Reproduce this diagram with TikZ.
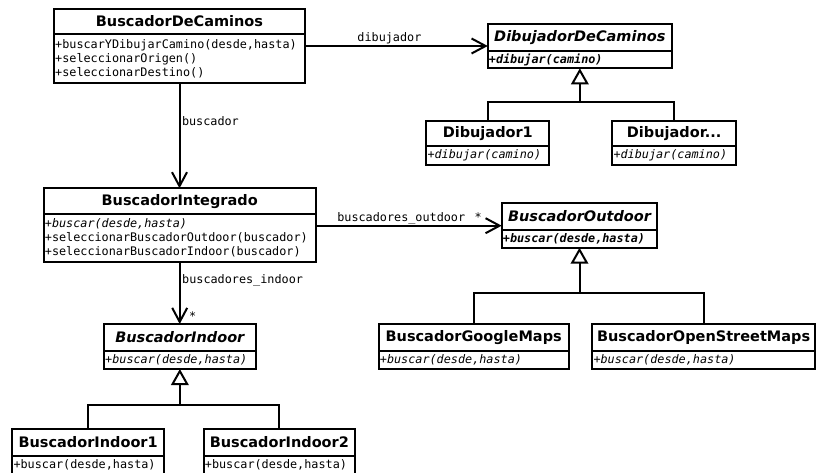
\documentclass[tikz,border=0pt]{standalone}
\usepackage{fontspec}
\setmainfont{DejaVu Sans}
\newfontfamily\umlmono{DejaVu Sans Mono}
\usetikzlibrary{arrows.meta}

\tikzset{
  uml/.style={draw=black, line width=2pt, inner sep=0pt, outer sep=0pt, fill=white},
  ctitle/.style={uml, font=\fontsize{14.5}{17}\selectfont\bfseries},
  atitle/.style={uml, font=\fontsize{14.5}{17}\selectfont\bfseries\itshape},
  cbody/.style={uml, anchor=north, inner xsep=1.2pt, align=left,
    font=\umlmono\fontsize{11.8}{14}\selectfont},
  conn/.style={line width=2pt, line join=miter},
  assoc/.style={conn, -{Straight Barb[length=14pt,width=15pt]}},
  inherit/.style={conn, -{Triangle[open,length=16pt,width=17.5pt]}},
  lbl/.style={font=\umlmono\fontsize{11.8}{14}\selectfont, inner sep=0pt},
}

\begin{document}
\begin{tikzpicture}[x=1pt, y=-1pt]
\fill[white] (0,0) rectangle (817,473);
\useasboundingbox (0,0) rectangle (817,473);

% BuscadorDeCaminos
\node[ctitle, minimum width=251pt, minimum height=25pt] (bdc) at (179.5,21.5) {BuscadorDeCaminos};
\node[cbody, minimum width=251pt, minimum height=49pt, text width=248.6pt] (bdc-b) at (bdc.south)
  {+buscarYDibujarCamino(desde,hasta)\\+seleccionarOrigen()\\+seleccionarDestino()};

% DibujadorDeCaminos (abstract)
\node[atitle, minimum width=184.3pt, minimum height=26.7pt] (ddc) at (579.85,37.35) {DibujadorDeCaminos};
\node[cbody, minimum width=184.3pt, minimum height=17.6pt, text width=181.9pt] (ddc-b) at (ddc.south)
  {\bfseries\itshape +dibujar(camino)};

% Dibujador1 and Dibujador...
\node[ctitle, minimum width=123pt, minimum height=25.3pt] (d1) at (487.8,133.35) {Dibujador1};
\node[cbody, minimum width=123pt, minimum height=19pt, text width=120.6pt] (d1-b) at (d1.south)
  {\itshape +dibujar(camino)};
\node[ctitle, minimum width=123.7pt, minimum height=25.3pt] (dx) at (674.15,133.35) {Dibujador...};
\node[cbody, minimum width=123.7pt, minimum height=19pt, text width=121.3pt] (dx-b) at (dx.south)
  {\itshape +dibujar(camino)};

% BuscadorIntegrado
\node[ctitle, minimum width=272pt, minimum height=25.7pt] (bi) at (179.7,201.15) {BuscadorIntegrado};
\node[cbody, minimum width=272pt, minimum height=47.7pt, text width=269.6pt] (bi-b) at (bi.south)
  {{\itshape +buscar(desde,hasta)}\\+seleccionarBuscadorOutdoor(buscador)\\+seleccionarBuscadorIndoor(buscador)};

% BuscadorOutdoor (abstract)
\node[atitle, minimum width=155.6pt, minimum height=27.3pt] (bo) at (579.5,216.35) {BuscadorOutdoor};
\node[cbody, minimum width=155.6pt, minimum height=17.7pt, text width=153.2pt] (bo-b) at (bo.south)
  {\bfseries\itshape +buscar(desde,hasta)};

% BuscadorGoogleMaps and BuscadorOpenStreetMaps
\node[ctitle, minimum width=190pt, minimum height=27pt] (bg) at (473.7,337.5) {BuscadorGoogleMaps};
\node[cbody, minimum width=190pt, minimum height=18pt, text width=187.6pt] (bg-b) at (bg.south)
  {\itshape +buscar(desde,hasta)};
\node[ctitle, minimum width=222.7pt, minimum height=27pt] (bos) at (703.65,337.5) {BuscadorOpenStreetMaps};
\node[cbody, minimum width=222.7pt, minimum height=18pt, text width=220.3pt] (bos-b) at (bos.south)
  {\itshape +buscar(desde,hasta)};

% BuscadorIndoor (abstract)
\node[atitle, minimum width=151.7pt, minimum height=27pt] (bin) at (179.85,337.5) {BuscadorIndoor};
\node[cbody, minimum width=151.7pt, minimum height=18pt, text width=149.3pt] (bin-b) at (bin.south)
  {\itshape +buscar(desde,hasta)};

% BuscadorIndoor1 and BuscadorIndoor2
\node[ctitle, minimum width=151.7pt, minimum height=27pt] (b1) at (88.15,442.5) {BuscadorIndoor1};
\node[cbody, minimum width=151.7pt, minimum height=18pt, text width=149.3pt] (b1-b) at (b1.south)
  {+buscar(desde,hasta)};
\node[ctitle, minimum width=151.3pt, minimum height=27pt] (b2) at (279.35,442.5) {BuscadorIndoor2};
\node[cbody, minimum width=151.3pt, minimum height=18pt, text width=148.9pt] (b2-b) at (b2.south)
  {+buscar(desde,hasta)};

% associations
\coordinate (a1) at ([yshift=-12pt]bdc-b.north east);
\draw[assoc] (a1) -- (a1 -| ddc.west)
  node[lbl, pos=.462, anchor=base, yshift=4pt] {dibujador};

\draw[assoc] (bdc-b.south) -- (bdc-b.south |- bi.north)
  node[lbl, pos=.408, anchor=base west, xshift=1.5pt] {buscador};

\coordinate (a2) at ([yshift=-11.7pt]bi-b.north east);
\draw[assoc] (a2) -- (a2 -| bo.west)
  node[lbl, pos=.46, anchor=base, yshift=4.5pt] {buscadores\_outdoor}
  node[lbl, pos=.874, anchor=base, yshift=4.5pt] {*};

\draw[assoc] (bi-b.south) -- (bi-b.south |- bin.north)
  node[lbl, pos=.342, anchor=base west, xshift=1.5pt] {buscadores\_indoor}
  node[lbl, pos=.94, anchor=base, xshift=13pt] {*};

% generalizations
\coordinate (ddc-j) at (ddc-b.south |- 0,102);
\draw[inherit] (ddc-j) -- (ddc-b.south);
\draw[conn] (d1.north) |- (ddc-j) -| (dx.north);

\coordinate (bo-j) at (bo-b.south |- 0,293.3);
\draw[inherit] (bo-j) -- (bo-b.south);
\draw[conn] (bg.north) |- (bo-j) -| (bos.north);

\coordinate (bin-j) at (bin-b.south |- 0,405);
\draw[inherit] (bin-j) -- (bin-b.south);
\draw[conn] (b1.north) |- (bin-j) -| (b2.north);
\end{tikzpicture}
\end{document}
